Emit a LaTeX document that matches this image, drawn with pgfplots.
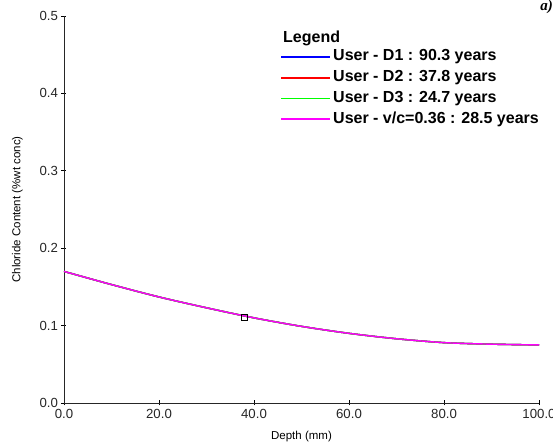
\documentclass[border=0pt]{standalone}
\usepackage{fontspec}
\setmainfont{Liberation Sans}
\newfontfamily\timesf{Liberation Serif}
\usepackage{pgfplots}
\pgfplotsset{compat=1.18}
\definecolor{cD1}{RGB}{0,0,255}
\definecolor{cD2}{RGB}{255,0,0}
\definecolor{cD3}{RGB}{0,255,0}
\definecolor{cD4}{RGB}{255,0,255}
\begin{document}
\begin{tikzpicture}[x=1pt,y=1pt]
\useasboundingbox (-64,-43) rectangle (489,403);
\begin{axis}[
  at={(0,0)}, anchor=origin,
  scale only axis, width=475pt, height=387pt,
  xmin=0, xmax=100, ymin=0, ymax=0.5,
  axis lines*=left,
  axis line style={black!85, line width=0.8pt},
  xtick={0,20,...,100}, ytick={0,0.1,...,0.5},
  tick align=center, major tick length=5pt,
  tick style={black, line width=0.6pt},
  xticklabel style={/pgf/number format/.cd, fixed, fixed zerofill, precision=1},
  yticklabel style={/pgf/number format/.cd, fixed, fixed zerofill, precision=1},
  /pgf/number format/assume math mode=true,
  ticklabel style={font=\fontsize{13.2}{15}\selectfont, text=black!85},
  xlabel={Depth (mm)}, ylabel={Chloride Content (\%wt conc)},
  label style={font=\fontsize{11.5}{13}\selectfont, inner sep=0pt},
  xlabel style={at={(axis description cs:0.5,0)}, anchor=north, yshift=-28pt},
  ylabel style={at={(axis description cs:0,0.5)}, anchor=south, yshift=41pt},
  clip=false,
]
\addplot[cD1, line width=1.4pt, smooth] coordinates {(0,0.170)(10,0.153)(20,0.137)(30,0.123)(40,0.110)(50,0.099)(60,0.090)(70,0.083)(80,0.078)(90,0.076)(100,0.075)};
\addplot[cD2, line width=1.4pt, smooth] coordinates {(0,0.170)(10,0.153)(20,0.137)(30,0.123)(40,0.110)(50,0.099)(60,0.090)(70,0.083)(80,0.078)(90,0.076)(100,0.075)};
\addplot[cD3, line width=1.4pt, smooth] coordinates {(0,0.170)(10,0.153)(20,0.137)(30,0.123)(40,0.110)(50,0.099)(60,0.090)(70,0.083)(80,0.078)(90,0.076)(100,0.075)};
\addplot[cD4, line width=1.4pt, smooth] coordinates {(0,0.170)(10,0.153)(20,0.137)(30,0.123)(40,0.110)(50,0.099)(60,0.090)(70,0.083)(80,0.078)(90,0.076)(100,0.075)};
\addplot[only marks, mark=square, mark size=3pt, mark options={black, line width=0.8pt, fill=none}] coordinates {(38,0.111)};
\end{axis}
% legend (drawn outside the pgfplots legend matrix)
\node[anchor=west, font=\bfseries\fontsize{16}{18}\selectfont, inner sep=0pt] at (219,365) {Legend};
\draw[cD1, line width=1.3pt] (217,346) -- (266,346);
\node[anchor=west, font=\bfseries\fontsize{16}{18}\selectfont, inner sep=0pt] at (269,346) {User - D1 : 90.3 years};
\draw[cD2, line width=1.3pt] (217,325) -- (266,325);
\node[anchor=west, font=\bfseries\fontsize{16}{18}\selectfont, inner sep=0pt] at (269,325) {User - D2 : 37.8 years};
\draw[cD3, line width=1.3pt] (217,304.5) -- (266,304.5);
\node[anchor=west, font=\bfseries\fontsize{16}{18}\selectfont, inner sep=0pt] at (269,304.5) {User - D3 : 24.7 years};
\draw[cD4, line width=1.3pt] (217,284) -- (266,284);
\node[anchor=west, font=\bfseries\fontsize{16}{18}\selectfont, inner sep=0pt] at (269,284) {User - v/c=0.36 : 28.5 years};
\node[anchor=north east, font=\timesf\bfseries\itshape\fontsize{15}{17}\selectfont, inner sep=0pt] at (489,403) {a)};
\end{tikzpicture}
\end{document}
